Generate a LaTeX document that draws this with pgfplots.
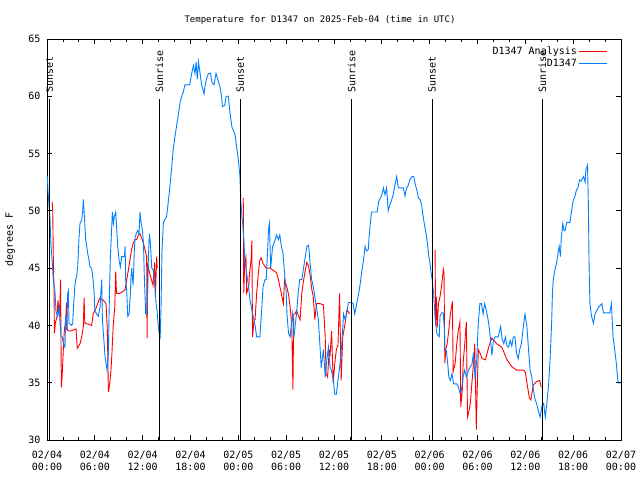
\documentclass[border=0pt]{standalone}
\usepackage{fontspec}
\setmainfont{DejaVu Sans Mono}
\usepackage{pgfplots}
\pgfplotsset{compat=1.18}
\definecolor{obsblue}{RGB}{0,128,255}
\definecolor{anared}{RGB}{255,0,0}
\newcommand{\gfont}{\fontsize{10}{12}\selectfont}
\begin{document}
\begin{tikzpicture}
\begin{axis}[
  at={(0,0)}, anchor=south west,
  scale only axis, width=574pt, height=401pt,
  xmin=0, xmax=72, ymin=30, ymax=65,
  xtick={0,6,...,72},
  xticklabels={{02/04\\00:00},{02/04\\06:00},{02/04\\12:00},{02/04\\18:00},
                {02/05\\00:00},{02/05\\06:00},{02/05\\12:00},{02/05\\18:00},
                {02/06\\00:00},{02/06\\06:00},{02/06\\12:00},{02/06\\18:00},
                {02/07\\00:00}},
  minor x tick num=2,
  ytick={30,35,...,65},
  major tick length=5pt, minor tick length=3pt,
  tick style={black, line width=0.8pt},
  axis line style={line width=0.8pt},
  /pgf/number format/assume math mode=true,
  ticklabel style={font=\gfont},
  xticklabel style={align=center, yshift=-8pt},
  yticklabel style={xshift=-3pt},
  title={Temperature for D1347 on 2025-Feb-04 (time in UTC)},
  title style={at={(axis description cs:0.4756,1)}, anchor=center, yshift=13pt, font=\fontsize{9}{11}\selectfont},
  ylabel={degrees F},
  ylabel style={at={(axis description cs:-0.064,0.5)}, anchor=center, font=\gfont},
  legend style={draw=none, fill=none, at={(1,1)}, anchor=north east, xshift=-10pt, yshift=-4pt,
                font=\gfont, row sep=-1pt},
  legend cell align=right,
  legend plot pos=right,
  legend image code/.code={\draw[#1] (9pt,0pt) -- (37pt,0pt);},
  unbounded coords=jump,
]
% analysis (red), gaps during daylight
\addplot[anared, line width=0.9pt] coordinates {
(0.65,50.8)(0.72,50)(0.8,45.4)(0.88,43.4)(0.93,39.3)(1.05,40.2)(1.26,40.8)(1.38,42.2)
(1.59,40.8)(1.7,44)(1.8,34.6)(1.88,35.3)(1.96,36.5)(2.05,37.9)(2.17,39.5)(2.34,40.5)
(2.45,42)(2.55,39.6)(2.9,39.5)(3.3,39.6)(3.64,39.7)(3.8,38)(4.14,38.4)(4.35,39)
(4.56,39.9)(4.65,42.4)(4.75,40.2)(5.2,40.1)(5.6,40)(5.8,41)(6.0,41.3)(6.2,41.6)
(6.4,42)(6.65,42.4)(7.07,42.2)(7.4,41.9)(7.57,39.6)(7.7,34.2)(7.8,34.6)(8.0,35.8)
(8.15,37.6)(8.3,39.9)(8.5,41.6)(8.62,44.7)(8.72,42.8)(9.16,42.8)(9.58,43)(9.79,43.1)
(10.0,44)(10.2,44.8)(10.4,45.7)(10.6,46.6)(10.83,47.2)(11.04,47.5)(11.25,47.5)(11.46,47.9)
(11.67,48)(11.88,47.6)(12.09,47.2)(12.3,46.6)(12.5,46)(12.55,38.9)(12.65,45.2)(12.9,44.5)
(13.1,44)(13.3,43.5)(13.5,45.5)(13.6,42.5)(13.76,46)(13.82,45)
(14,nan)
(24.55,51.1)(24.62,51.1)(24.68,42.8)(24.8,45.5)(24.96,46)(25.05,42.8)(25.3,43.4)(25.4,44.5)
(25.6,45.7)(25.7,47.4)(25.78,39)(25.98,40.5)(26.1,40.5)(26.3,42.8)(26.5,44.5)(26.7,45.7)
(26.85,45.9)(27.1,45.4)(27.5,45)(27.98,45)(28.4,44.8)(28.8,44.6)(29.03,44)(29.2,43.4)
(29.4,42.8)(29.65,41.9)(29.8,44)(30.06,43.4)(30.3,42.7)(30.5,41.6)(30.7,40)(30.85,34.4)
(30.95,41)(31.1,41)(31.3,41.3)(31.5,40.9)(31.75,40.5)(31.97,42.9)(32.2,44)(32.4,44.8)
(32.6,45.5)(32.8,45.2)(33.0,44.4)(33.2,43.2)(33.4,42.5)(33.6,40.5)(33.8,41.9)(34.25,41.9)
(34.67,41.8)(34.9,39)(35.0,35.8)(35.2,35.5)(35.4,37.9)(35.5,37.3)(35.7,39.5)(35.9,35)
(36.1,36.7)(36.3,37.9)(36.5,38.3)(36.7,42.8)(36.9,35.2)(37.1,39)(37.4,40.2)(37.6,41.3)
(37.8,41.2)(37.95,41)
(38.1,nan)
(48.68,46.6)(48.75,40)(48.85,42.5)(48.95,39.8)(49.1,41.9)(49.3,42.5)(49.5,43.5)(49.72,44.9)
(49.8,44.6)(49.9,36.7)(50.05,38)(50.2,38.4)(50.4,39.6)(50.6,41)(50.85,42.1)(50.95,36)
(51.2,36.7)(51.4,38.4)(51.6,39.6)(51.8,40.3)(51.9,32.9)(52.1,34.4)(52.2,36.7)(52.4,38.4)
(52.6,40.3)(52.75,32)(52.9,32.4)(53.1,33.2)(53.3,35)(53.5,36.7)(53.65,38.4)(53.75,35)
(53.85,30.9)(53.95,34)(54.1,37.9)(54.3,37.6)(54.6,37.1)(55.0,37)(55.4,38.1)(55.8,38.9)
(56.4,38.4)(57.05,38.1)(57.7,37)(58.3,36.4)(58.9,36.1)(59.8,36.1)(60.0,35.9)(60.2,35)
(60.5,33.7)(60.7,33.5)(60.9,34.4)(61.0,34.8)(61.4,35.1)(61.8,35.2)(62.0,34.6)
};
\addlegendentry{D1347 Analysis}
% observations (blue)
\addplot[obsblue, line width=0.9pt] coordinates {
(0.05,53)(0.12,51.8)(0.38,49.2)(0.5,47)(0.67,45.4)(0.8,43.8)(1.0,43)(1.13,41.2)
(1.34,40.8)(1.51,41.6)(1.63,40.3)(1.76,39.0)(1.92,39)(2.05,38.4)(2.26,38.1)(2.34,40.8)
(2.47,39.6)(2.6,42.8)(2.68,43)(2.76,40.2)(3.1,40)(3.22,40.2)(3.35,41.9)(3.5,43.5)
(3.6,44)(3.72,44.3)(3.85,45.1)(4.02,47.7)(4.14,48.9)(4.35,49.2)(4.48,50)(4.56,51)
(4.69,49.5)(4.85,47.5)(4.98,46.9)(5.1,46.3)(5.27,45.7)(5.4,45.1)(5.6,45)(5.73,44.3)
(5.9,43)(6.0,41.3)(6.23,41)(6.44,40.8)(6.65,41.6)(6.86,44)(6.95,40.5)(7.2,38.1)
(7.28,37.3)(7.4,36.7)(7.53,36.1)(7.7,37.5)(7.78,40.8)(7.87,43.7)(7.95,46)(8.12,48.6)
(8.2,49.9)(8.33,48.9)(8.45,49.5)(8.62,49.9)(8.74,48.5)(8.87,46.9)(9.04,45.7)(9.2,45.1)
(9.37,46)(9.71,46)(9.8,46.9)(9.87,44)(10.0,43)(10.13,40.8)(10.3,41)(10.46,42.8)
(10.54,44.3)(10.63,45)(10.8,43.5)(10.96,46.6)(11.05,47.7)(11.2,48)(11.38,48.3)(11.55,48)
(11.67,49.9)(11.8,49)(11.97,48.3)(12.1,47.2)(12.22,44)(12.38,41)(12.55,41)(12.72,46)
(12.85,48)(12.97,47.2)(13.14,45)(13.35,44.8)(13.56,43.2)(13.68,41.9)(13.8,41.3)(13.97,39.9)
(14.1,39.2)(14.2,39)(14.3,41.5)(14.42,46.4)(14.6,49)(15.0,49.5)(15.2,50.7)(15.4,52)
(15.6,53.5)(15.85,55.5)(16.06,56.5)(16.27,57.5)(16.5,58.5)(16.7,59.5)(16.9,60)(17.1,60.4)
(17.3,61)(17.9,61)(18.15,62)(18.36,62.7)(18.57,62)(18.7,63)(18.86,61.5)(19.0,63)
(19.2,62)(19.4,61)(19.7,60.2)(19.8,60.8)(20.0,61.5)(20.25,62)(20.5,62)(20.7,61.2)
(20.95,61)(21.2,62)(21.5,61.3)(21.7,60.8)(21.9,60)(22.0,59.1)(22.3,59.2)(22.46,60)
(22.75,60)(22.96,58.5)(23.2,57.3)(23.4,57)(23.6,56.6)(23.8,55.5)(24.0,54.5)(24.2,53)
(24.3,51)(24.45,49.5)(24.55,48.9)(24.7,47.5)(24.8,45.8)(25.05,44.5)(25.26,43.5)(25.47,42.2)
(25.8,41)(26.1,40)(26.3,39)(26.7,39)(26.9,41)(27.1,43.4)(27.35,44)(27.5,44)
(27.8,48.5)(27.9,48.9)(28.06,45)(28.3,46.9)(28.5,47.2)(28.8,47.9)(29.03,47.5)(29.2,47.9)
(29.4,46.9)(29.6,46.3)(29.7,45.4)(29.86,44)(30.0,43)(30.1,41)(30.3,39.3)(30.5,39)
(30.7,40.5)(30.8,41)(30.98,39)(31.16,40.2)(31.3,41)(31.5,42.8)(31.7,44)(31.96,44)
(32.2,45.1)(32.4,46)(32.6,46.9)(32.8,47)(32.9,46.4)(33.0,45.4)(33.2,44)(33.4,43.4)
(33.6,42.5)(33.8,41.6)(34.04,40.5)(34.25,38.1)(34.4,36.3)(34.67,37.9)(34.9,35.5)(35.1,37)
(35.3,38.1)(35.5,36.4)(35.7,36)(35.9,35.3)(36.1,34)(36.3,34)(36.5,35.2)(36.76,36.7)
(36.97,38.3)(37.2,41)(37.4,40.5)(37.6,41)(37.8,42)(38.2,42)(38.4,41.9)(38.6,41)
(38.85,41.9)(39.1,42.8)(39.3,43.7)(39.5,44.8)(39.7,45.7)(39.9,46.9)(40.1,46.5)(40.3,46.6)
(40.4,47.7)(40.6,49.2)(40.7,49.9)(41.4,49.9)(41.6,50.8)(41.8,51.1)(42.0,51.4)(42.2,52)
(42.4,51.4)(42.6,52)(42.8,50)(43.0,50.5)(43.25,51)(43.45,51.5)(43.66,52.3)(43.87,53)
(44.08,52)(44.7,52)(44.9,51.3)(45.1,52)(45.3,52.2)(45.5,52.7)(45.8,53)(46.0,53)
(46.2,52.3)(46.4,51.8)(46.6,51.1)(46.8,51)(47.0,50.5)(47.1,49.9)(47.3,49)(47.55,48)
(47.75,47)(47.9,46)(48.05,45.4)(48.2,44.5)(48.35,43.8)(48.5,42.8)(48.7,40.5)(48.9,39.3)
(49.2,39)(49.3,40.8)(49.5,41.1)(49.7,41.1)(49.85,39.6)(49.9,37.9)(50.1,37.8)(50.3,36.4)
(50.4,35.5)(50.6,35.2)(50.8,35.8)(51.0,34.9)(51.4,34.9)(51.6,34.65)(51.8,34.1)(52.0,34.4)
(52.2,35.5)(52.4,36.1)(52.6,35.5)(52.9,36.1)(53.1,36.4)(53.3,36.6)(53.5,37.6)(53.7,35.3)
(53.9,37)(54.1,40.2)(54.3,41.9)(54.5,41.9)(54.7,41)(54.9,41.9)(55.2,41)(55.4,40.2)
(55.6,39)(55.8,37.4)(56.0,38.7)(56.2,39)(56.6,39)(56.9,39.9)(57.1,38.8)(57.3,38.4)
(57.5,39)(57.7,38.2)(57.9,38.1)(58.1,38.7)(58.3,38.2)(58.5,39)(58.7,39)(58.9,37.6)
(59.1,37.1)(59.3,37.9)(59.5,38.4)(59.75,39.9)(59.95,41)(60.2,39.9)(60.4,37.9)(60.6,36.1)
(60.8,35.5)(61.0,34.4)(61.2,33.6)(61.4,33.2)(61.65,32.5)(61.86,32)(62.1,33)(62.3,33.2)
(62.5,32)(62.7,33.2)(62.9,34.65)(63.1,37)(63.3,40.2)(63.4,42.8)(63.5,44)(63.7,44.8)
(63.9,45.4)(64.1,46.3)(64.25,46.9)(64.4,46)(64.5,47.5)(64.7,48.9)(64.85,48.3)(65.0,48.3)
(65.2,49)(65.6,49)(65.8,50)(66.0,50.9)(66.2,51.2)(66.4,51.8)(66.6,52)(66.8,52.7)
(67.0,52.6)(67.3,53)(67.5,52.5)(67.6,53.6)(67.8,54)(67.9,50.9)(68.0,45.1)(68.1,41.9)
(68.3,40.8)(68.55,40.2)(68.75,41)(68.96,41.3)(69.2,41.6)(69.6,41.9)(69.8,41.1)(70.6,41.1)
(70.8,41.9)(71.0,39)(71.2,37.9)(71.4,36.8)(71.6,35.2)(71.8,34.9)
};
\addlegendentry{D1347}
% sunset / sunrise markers
\addplot[black, line width=0.9pt, forget plot] coordinates {(0.29,30)(0.29,59.8)};
\addplot[black, line width=0.9pt, forget plot] coordinates {(14.1,30)(14.1,59.8)};
\addplot[black, line width=0.9pt, forget plot] coordinates {(24.25,30)(24.25,59.8)};
\addplot[black, line width=0.9pt, forget plot] coordinates {(38.2,30)(38.2,59.8)};
\addplot[black, line width=0.9pt, forget plot] coordinates {(48.3,30)(48.3,59.8)};
\addplot[black, line width=0.9pt, forget plot] coordinates {(62.15,30)(62.15,59.8)};
\node[rotate=90, anchor=west, inner sep=0pt, font=\gfont] at (axis cs:0.29,60.3) {Sunset};
\node[rotate=90, anchor=west, inner sep=0pt, font=\gfont] at (axis cs:14.1,60.3) {Sunrise};
\node[rotate=90, anchor=west, inner sep=0pt, font=\gfont] at (axis cs:24.25,60.3) {Sunset};
\node[rotate=90, anchor=west, inner sep=0pt, font=\gfont] at (axis cs:38.2,60.3) {Sunrise};
\node[rotate=90, anchor=west, inner sep=0pt, font=\gfont] at (axis cs:48.3,60.3) {Sunset};
\node[rotate=90, anchor=west, inner sep=0pt, font=\gfont] at (axis cs:62.15,60.3) {Sunrise};
\end{axis}
\pgfresetboundingbox
\path (-47pt,-40pt) rectangle (593pt,440pt);
\end{tikzpicture}
\end{document}
